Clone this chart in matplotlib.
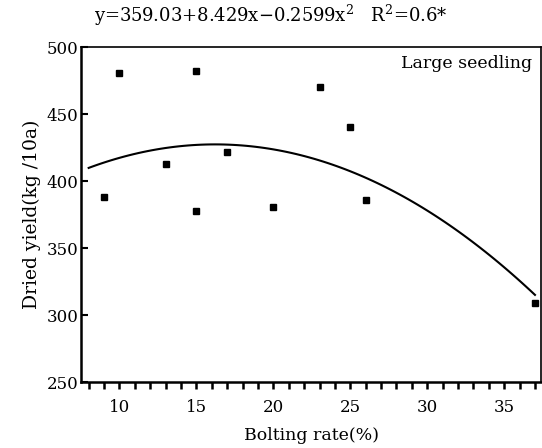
import numpy as np
import matplotlib
matplotlib.use('Agg')
import matplotlib.pyplot as plt
from matplotlib.ticker import MultipleLocator

plt.rcParams['font.family'] = ['DejaVu Serif']
plt.rcParams['mathtext.fontset'] = 'dejavuserif'

# observed points
bolting = [9, 10, 13, 15, 15, 17, 20, 23, 25, 26, 37]
yield_kg = [388, 481, 413, 482, 378, 422, 381, 470, 440, 386, 309]

# fitted quadratic y = b0 + b1 x + b2 x^2
coef = [359.03, 8.429, -0.2599]
fit_range = [8, 37]

fig = plt.figure(figsize=(5.42, 4.48), dpi=100)
ax = fig.add_axes([0.1494, 0.147, 0.849, 0.748])

xs = np.linspace(fit_range[0], fit_range[1], 100)
ax.plot(xs, coef[0] + coef[1] * xs + coef[2] * xs ** 2, color='black', lw=1.5)
ax.plot(bolting, yield_kg, 's', color='black', markersize=5)

ax.set_xlim(7.5, 37.4)
ax.set_ylim(250, 500)
ax.xaxis.set_major_locator(MultipleLocator(5))
ax.xaxis.set_minor_locator(MultipleLocator(1))
ax.yaxis.set_major_locator(MultipleLocator(50))
ax.tick_params(axis='x', which='both', direction='out', length=5, width=1.8, labelsize=12, pad=7)
ax.tick_params(axis='y', direction='in', length=5, width=1.5, labelsize=12, pad=2)
for s in ['left', 'bottom']:
    ax.spines[s].set_linewidth(1.8)
for s in ['top', 'right']:
    ax.spines[s].set_linewidth(1.2)

ax.set_xlabel('Bolting rate(%)', fontsize=12.5, labelpad=8)
ax.set_ylabel('Dried yield(kg /10a)', fontsize=13.5, labelpad=4)
ax.text(0.98, 0.95, 'Large seedling', transform=ax.transAxes, ha='right', va='center', fontsize=12.5)
fig.text(0.5, 0.965, r'y=359.03+8.429x$-$0.2599x$^2$   R$^2$=0.6*', ha='center', va='center',
         fontsize=13)

plt.savefig('out.png', dpi=100)
